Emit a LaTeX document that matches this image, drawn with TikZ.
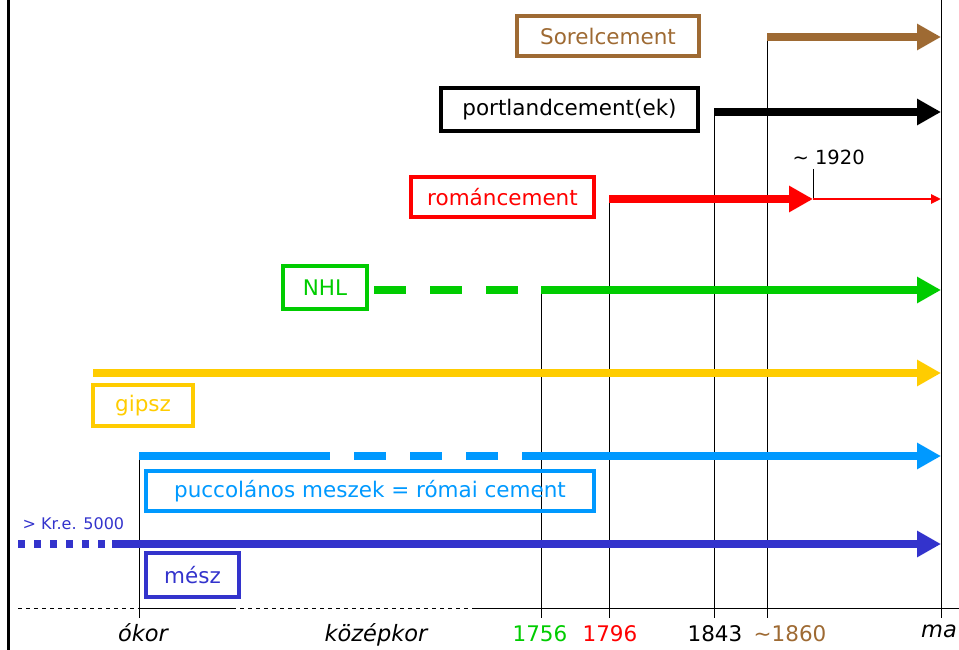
\documentclass[tikz,border=0pt]{standalone}
\usepackage{fontspec}
\setmainfont{DejaVu Sans}
\usetikzlibrary{arrows.meta}
\definecolor{sorel}{HTML}{9E6A33}
\definecolor{roman}{HTML}{FF0000}
\definecolor{nhl}{HTML}{00CC00}
\definecolor{gipsz}{HTML}{FFCC00}
\definecolor{pucc}{HTML}{0099FF}
\definecolor{mesz}{HTML}{3333CC}
\begin{document}
\begin{tikzpicture}[x=1pt,y=-1pt,
  tbox/.style={draw,line width=3.2pt,inner sep=0pt,font=\fontsize{21.5}{25}\selectfont},
  era/.style={line width=8.5pt,-{Triangle[length=24pt,width=25pt]}},
  tick/.style={line width=0.9pt,black},
  yearlbl/.style={font=\fontsize{21.5}{25}\selectfont},
  agelbl/.style={font=\fontsize{22.5}{26}\selectfont\itshape}]
\useasboundingbox (0,0) rectangle (959,650);

% frame lines
\draw[line width=3pt] (8,0) -- (8,650);
\coordinate (maTop) at (941,0);
\coordinate (maBot) at (941,618);
\draw[tick] (maTop) -- (maBot);

% time axis
\coordinate (ax0) at (18,608);
\coordinate (ax1) at (140,608);
\coordinate (ax2) at (232,608);
\coordinate (ax3) at (472,608);
\coordinate (ax4) at (959,608);
\draw[line width=0.9pt,dash pattern=on 4pt off 4pt] (ax0) -- (ax1);
\draw[line width=0.9pt] (ax1) -- (ax2);
\draw[line width=0.9pt,dash pattern=on 4pt off 4pt] (ax2) -- (ax3);
\draw[line width=0.9pt] (ax3) -- (ax4);

% date markers
\coordinate (okT) at (139,456);  \coordinate (okB) at (139,618);
\coordinate (y56T) at (541,290); \coordinate (y56B) at (541,618);
\coordinate (y96T) at (609,199); \coordinate (y96B) at (609,618);
\coordinate (y43T) at (714,112); \coordinate (y43B) at (714,618);
\coordinate (y60T) at (767,37);  \coordinate (y60B) at (767,618);
\coordinate (y20T) at (813,169); \coordinate (y20B) at (813,199);
\foreach \t/\b in {okT/okB,y56T/y56B,y96T/y96B,y43T/y43B,y60T/y60B,y20T/y20B}
  \draw[tick] (\t) -- (\b);

% Sorelcement
\node[tbox,draw=sorel,text=sorel,minimum width=182pt,minimum height=40pt] (sorel) at (608,36) {Sorelcement};
\coordinate (sorelEnd) at (941,37);
\draw[era,sorel] (y60T) -- (sorelEnd);

% portlandcement
\node[tbox,draw=black,text=black,minimum width=257pt,minimum height=43pt] (port) at (569.5,109.5) {portlandcement(ek)};
\coordinate (portEnd) at (941,112);
\draw[era,black] (y43T) -- (portEnd);

% romancement
\node[tbox,draw=roman,text=roman,minimum width=183pt,minimum height=40pt] (roman) at (502.5,197) {románcement};
\coordinate (romanEnd) at (941,199);
\draw[era,roman] (y96T) -- (y20B);
\draw[roman,line width=2.6pt,-{Triangle[length=10pt,width=9pt]}] (y20B) -- (romanEnd);
\node[anchor=base west,font=\fontsize{19.5}{23}\selectfont] (c1920) at (789,165) {\char"007E\ 1920};

% NHL
\node[tbox,draw=nhl,text=nhl,minimum width=84pt,minimum height=43pt] (nhlbox) at (325,287.5) {NHL};
\coordinate (nhlS) at (374,290);
\coordinate (nhlEnd) at (941,290);
\draw[nhl,line width=8.5pt,dash pattern=on 32pt off 24pt] (nhlS) -- (y56T);
\draw[era,nhl] (y56T) -- (nhlEnd);

% gipsz
\node[tbox,draw=gipsz,text=gipsz,minimum width=100pt,minimum height=41pt] (gipszbox) at (143,405.5) {gipsz};
\coordinate (gipS) at (93,373);
\coordinate (gipEnd) at (941,373);
\draw[era,gipsz] (gipS) -- (gipEnd);

% puccolanos meszek
\node[tbox,draw=pucc,text=pucc,minimum width=448pt,minimum height=40pt] (puccbox) at (370,491) {puccolános meszek = római cement};
\coordinate (puS) at (139,456);
\coordinate (puA) at (330,456);
\coordinate (puB) at (522,456);
\coordinate (puEnd) at (941,456);
\draw[pucc,line width=8.5pt] (puS) -- (puA);
\draw[pucc,line width=8.5pt,dash pattern=on 32pt off 24pt,dash phase=-24pt] (puA) -- (puB);
\draw[era,pucc] (puB) -- (puEnd);

% mesz
\node[tbox,draw=mesz,text=mesz,minimum width=93pt,minimum height=44pt] (meszbox) at (192.5,575) {mész};
\coordinate (meS) at (18,544);
\coordinate (meA) at (112,544);
\coordinate (meEnd) at (941,544);
\draw[mesz,line width=8.5pt,dash pattern=on 7pt off 9pt] (meS) -- (meA);
\draw[era,mesz] (meA) -- (meEnd);
\node[anchor=base west,text=mesz,font=\fontsize{16}{19}\selectfont] (kre) at (19,529) {> Kr.e. 5000};

% axis labels
\node[agelbl,anchor=base] (okor) at (143,641) {ókor};
\node[agelbl,anchor=base] (kozep) at (376,641) {középkor};
\node[yearlbl,anchor=base,text=nhl] (l1756) at (540,641) {1756};
\node[yearlbl,anchor=base,text=roman] (l1796) at (610,641) {1796};
\node[yearlbl,anchor=base] (l1843) at (715,641) {1843};
\node[yearlbl,anchor=base,text=sorel] (l1860) at (790,641) {\char"007E 1860};
\node[agelbl,anchor=base east,inner xsep=0pt] (ma) at (957,637) {ma};
\end{tikzpicture}
\end{document}
